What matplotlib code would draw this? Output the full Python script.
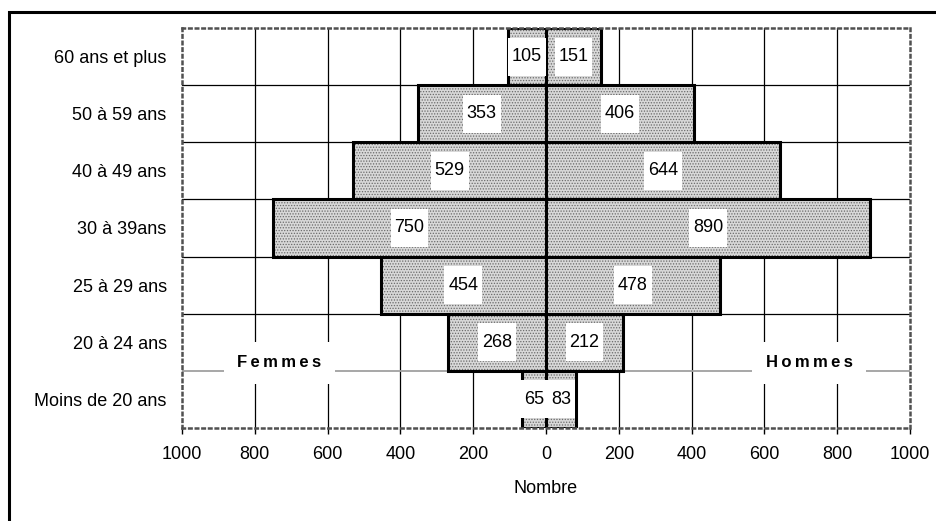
import matplotlib
matplotlib.use("Agg")
import matplotlib.pyplot as plt
from matplotlib.patches import Rectangle

# === Données ===
categories = ["Moins de 20 ans", "20 à 24 ans", "25 à 29 ans", "30 à 39ans",
              "40 à 49 ans", "50 à 59 ans", "60 ans et plus"]
femmes = [65, 268, 454, 750, 529, 353, 105]
hommes = [83, 212, 478, 890, 644, 406, 151]
xticks = [-1000, -800, -600, -400, -200, 0, 200, 400, 600, 800, 1000]
xtick_labels = ["1000", "800", "600", "400", "200", "0", "200", "400", "600", "800", "1000"]

plt.rcParams["font.family"] = ["Liberation Sans", "DejaVu Sans"]
plt.rcParams["hatch.linewidth"] = 0.6
FS = 13

fig = plt.figure(figsize=(9.37, 5.21), dpi=100)
ax = fig.add_axes([182 / 937, 93 / 521, 728 / 937, 400 / 521])

# cadre de la figure (seulement gauche et haut visibles)
fig.patches.append(Rectangle((9 / 937, -0.1), 1.2, (509 / 521) + 0.1,
                             transform=fig.transFigure, fill=False,
                             edgecolor="black", linewidth=2.2))

ypos = list(range(len(categories)))

# grille
for x in xticks[1:-1]:
    ax.axvline(x, color="black", linewidth=0.9, zorder=1)
for y in ypos[1:]:
    b = y - 0.5
    if y == 1:
        ax.axhline(b, color="#a0a0a0", linewidth=1.3, zorder=1)
    else:
        ax.axhline(b, color="black", linewidth=0.9, zorder=1)

# remplissage pointillé puis contour
for vals, sign in ((femmes, -1), (hommes, 1)):
    w = [sign * v for v in vals]
    ax.barh(ypos, w, height=1.0, color="#d8d8d8", edgecolor="#6a6a6a",
            hatch="......", linewidth=0, zorder=2)
    ax.barh(ypos, w, height=1.0, fill=False, edgecolor="black",
            linewidth=2.2, zorder=3)

# étiquettes avec fond blanc (taille en pixels convertie en unités de données)
px_x = 2000 / 728
px_y = 7 / 400

def label(x, y, txt):
    wpx = 9.6 * len(txt) + 9
    ax.add_patch(Rectangle((x - wpx * px_x / 2, y - 19 * px_y), wpx * px_x, 38 * px_y,
                           facecolor="white", edgecolor="none", zorder=4))
    ax.text(x, y, txt, ha="center", va="center", fontsize=FS, zorder=5)

for y, f, h in zip(ypos, femmes, hommes):
    label(-f / 2, y, str(f))
    label(h / 2, y, str(h))

sp = "\u2009"
lbl_box = dict(boxstyle="square,pad=0.8", facecolor="white", edgecolor="none")
ax.text(-733, 0.64, sp.join("Femmes"), ha="center", va="center", fontsize=12,
        fontweight="bold", bbox=lbl_box, zorder=3)
ax.text(723, 0.64, sp.join("Hommes"), ha="center", va="center", fontsize=12,
        fontweight="bold", bbox=lbl_box, zorder=3)

ax.set_xlim(-1000, 1000)
ax.set_ylim(-0.5, len(categories) - 0.5)
ax.set_xticks(xticks)
ax.set_xticklabels(xtick_labels, fontsize=FS)
ax.set_yticks(ypos)
ax.set_yticklabels(categories, fontsize=FS)
ax.tick_params(axis="y", length=0, pad=11)
ax.tick_params(axis="x", length=4, width=1, color="black", pad=9)
ax.set_xlabel("Nombre", fontsize=FS, labelpad=12)

for s in ax.spines.values():
    s.set_color("#505050")
    s.set_linestyle(":")
    s.set_linewidth(1.8)
    s.set_zorder(6)

fig.savefig("out.png", dpi=100)
